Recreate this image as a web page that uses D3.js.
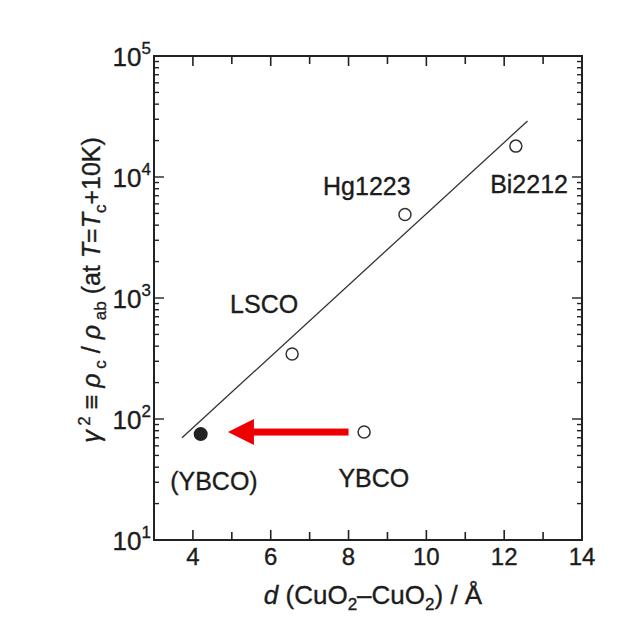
<!DOCTYPE html>
<html>
<head>
<meta charset="utf-8">
<script src="https://cdn.jsdelivr.net/npm/d3@7"></script>
<style>
  body { margin: 0; background: #fff; }
  text { font-family: "Liberation Sans", Arial, sans-serif; fill: #1c1c1c; stroke: #1c1c1c; stroke-width: 0.35; }
</style>
</head>
<body>
<div id="chart"></div>
<script>
// data
let names = ['YBCO', 'LSCO', 'Hg1223', 'Bi2212'];
let dValues = [8.4, 6.55, 9.45, 12.3];
let gammaValues = [78, 345, 4900, 18000];
let ybcoFilled = [4.2, 75];          // (YBCO) filled point
let fitLine = [[3.72, 70], [12.6, 29000]];
let arrowFrom = [8.0, 78], arrowTo = [4.9, 78];
let xTicks = [4, 6, 8, 10, 12, 14];
let yTicks = [1e1, 1e2, 1e3, 1e4, 1e5];

let width = 643, height = 629;
let m = {left: 154, right: 582, top: 56, bottom: 540};

let svg = d3.select('#chart').append('svg')
    .attr('width', width).attr('height', height);

let x = d3.scaleLinear().domain([3, 14]).range([m.left, m.right]);
let y = d3.scaleLog().domain([10, 1e5]).range([m.bottom, m.top]);

let g = svg.append('g');

// frame
g.append('rect')
    .attr('x', m.left).attr('y', m.top)
    .attr('width', m.right - m.left).attr('height', m.bottom - m.top)
    .attr('fill', 'none').attr('stroke', '#222').attr('stroke-width', 2);

// x ticks (inward, bottom and top)
d3.range(4, 14).forEach(v => {
    let len = v % 2 === 0 ? 10 : 8;
    g.append('line').attr('x1', x(v)).attr('x2', x(v))
        .attr('y1', m.bottom).attr('y2', m.bottom - len)
        .attr('stroke', '#222').attr('stroke-width', 1.6);
    g.append('line').attr('x1', x(v)).attr('x2', x(v))
        .attr('y1', m.top).attr('y2', m.top + len)
        .attr('stroke', '#222').attr('stroke-width', 1.6);
});

// y ticks (log minor + major, left and right)
for (let e = 1; e < 5; e++) {
    for (let k = 1; k <= 9; k++) {
        let v = k * Math.pow(10, e);
        let len = k === 1 ? 10 : 5;
        g.append('line').attr('x1', m.left).attr('x2', m.left + len)
            .attr('y1', y(v)).attr('y2', y(v))
            .attr('stroke', '#222').attr('stroke-width', 1.4);
        g.append('line').attr('x1', m.right).attr('x2', m.right - len)
            .attr('y1', y(v)).attr('y2', y(v))
            .attr('stroke', '#222').attr('stroke-width', 1.4);
    }
}

// tick labels
g.selectAll('.xl').data(xTicks).enter().append('text')
    .attr('x', d => x(d)).attr('y', m.bottom + 25)
    .attr('text-anchor', 'middle').attr('font-size', 24)
    .text(d => d);

let yl = g.selectAll('.yl').data(yTicks).enter().append('text')
    .attr('x', m.left - 3).attr('y', d => y(d) + 10)
    .attr('text-anchor', 'end').attr('font-size', 26);
yl.append('tspan').text('10');
yl.append('tspan').attr('font-size', 17).attr('dy', -12).text(d => Math.round(Math.log10(d)));

// fit line
g.append('line')
    .attr('x1', x(fitLine[0][0])).attr('y1', y(fitLine[0][1]))
    .attr('x2', x(fitLine[1][0])).attr('y2', y(fitLine[1][1]))
    .attr('stroke', '#333').attr('stroke-width', 1.3);

// open points
g.selectAll('.pt').data(names).enter().append('circle')
    .attr('cx', (d, i) => x(dValues[i])).attr('cy', (d, i) => y(gammaValues[i]))
    .attr('r', 6).attr('fill', '#fff').attr('stroke', '#333').attr('stroke-width', 1.5);

// filled point
g.append('circle')
    .attr('cx', x(ybcoFilled[0])).attr('cy', y(ybcoFilled[1]))
    .attr('r', 7).attr('fill', '#222');

// red arrow
let ax0 = x(arrowFrom[0]), ax1 = x(arrowTo[0]), ay = y(arrowTo[1]);
g.append('rect')
    .attr('x', ax1 + 24).attr('y', ay - 3.5)
    .attr('width', ax0 - ax1 - 24).attr('height', 7)
    .attr('fill', '#ee0000');
g.append('path')
    .attr('d', `M${ax1},${ay} L${ax1 + 26},${ay - 13} L${ax1 + 26},${ay + 13} Z`)
    .attr('fill', '#ee0000');

// point labels
let labels = [
    {t: 'LSCO', d: 5.83, v: 750},
    {t: 'Hg1223', d: 8.47, v: 7100},
    {t: 'Bi2212', d: 12.64, v: 7400},
    {t: '(YBCO)', d: 4.54, v: 26},
    {t: 'YBCO', d: 8.65, v: 27.4}
];
g.selectAll('.lab').data(labels).enter().append('text')
    .attr('x', d => x(d.d)).attr('y', d => y(d.v))
    .attr('text-anchor', 'middle').attr('font-size', 25)
    .text(d => d.t);

// x axis title
let xt = svg.append('text')
    .attr('x', 373).attr('y', 604)
    .attr('text-anchor', 'middle').attr('font-size', 26);
xt.append('tspan').attr('font-style', 'italic').text('d');
xt.append('tspan').text(' (CuO');
xt.append('tspan').attr('font-size', 17).attr('dy', 6).text('2');
xt.append('tspan').attr('dy', -6).text('–CuO');
xt.append('tspan').attr('font-size', 17).attr('dy', 6).text('2');
xt.append('tspan').attr('dy', -6).text(') / Å');

// y axis title
let yt = svg.append('text')
    .attr('transform', 'translate(100,290) rotate(-90)')
    .attr('text-anchor', 'middle').attr('font-size', 25);
yt.append('tspan').attr('font-style', 'italic').text('γ');
yt.append('tspan').attr('font-size', 17).attr('dy', -10).text(' 2');
yt.append('tspan').attr('dy', 10).text(' ≡ ');
yt.append('tspan').attr('font-style', 'italic').text('ρ');
yt.append('tspan').attr('font-size', 17).attr('dy', 6).text(' c');
yt.append('tspan').attr('dy', -6).text(' / ');
yt.append('tspan').attr('font-style', 'italic').text('ρ');
yt.append('tspan').attr('font-size', 17).attr('dy', 6).text(' ab');
yt.append('tspan').attr('dy', -6).text(' (at ');
yt.append('tspan').attr('font-style', 'italic').text('T');
yt.append('tspan').text('=');
yt.append('tspan').attr('font-style', 'italic').text('T');
yt.append('tspan').attr('font-size', 17).attr('dy', 6).text('c');
yt.append('tspan').attr('dy', -6).text('+10K)');
</script>
</body>
</html>
